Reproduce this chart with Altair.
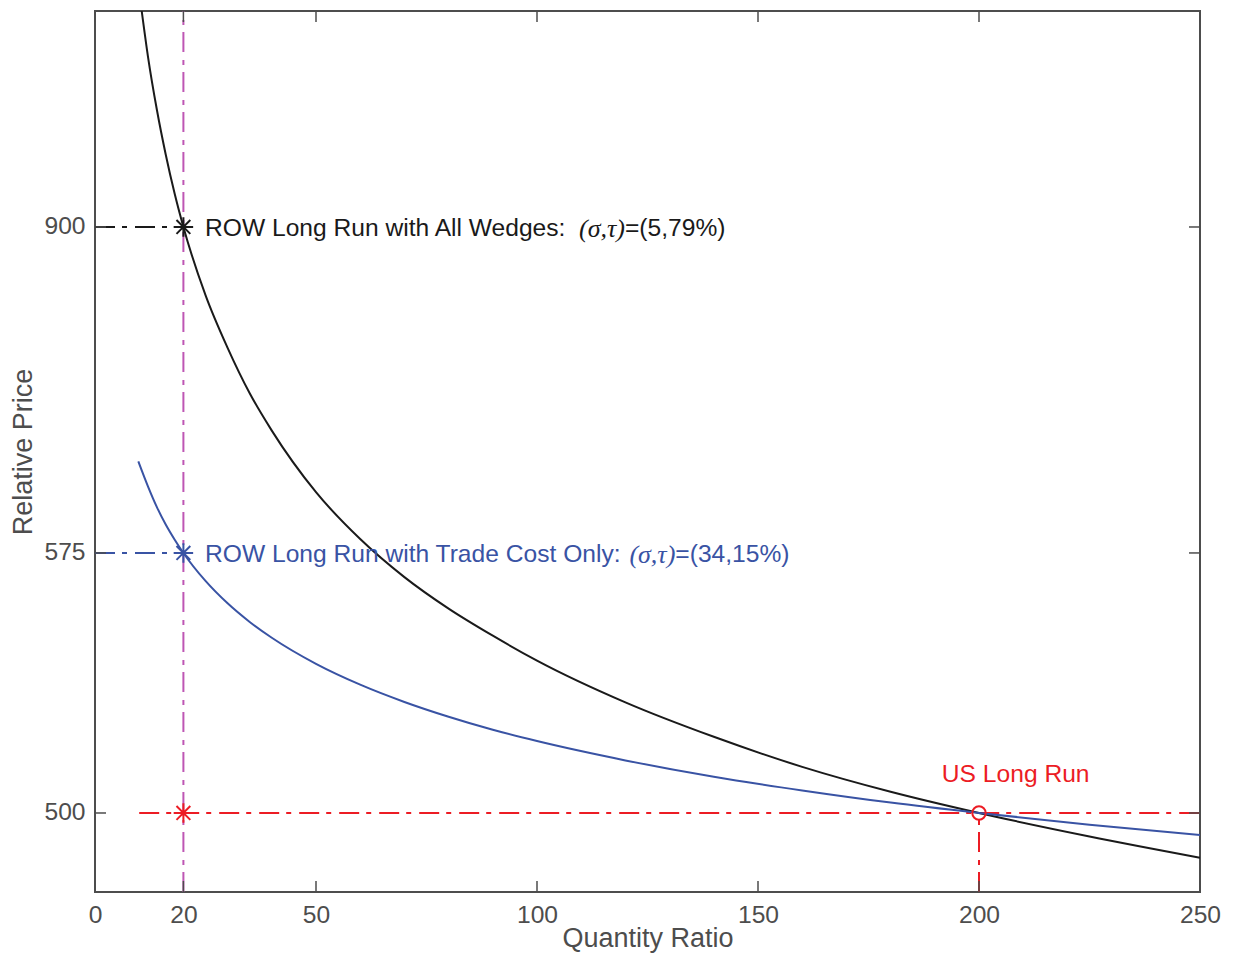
import altair as alt
import pandas as pd

# ---- values ----
# y is measured on the figure's (non-uniform) price axis; tick labels below
black_q = [10.5, 12, 14, 16, 18, 20, 25, 30, 35, 40, 50, 60, 70, 80, 90, 100, 120, 140, 160, 180, 200, 225, 250]
black_p = [1049, 1016, 980, 949.5, 923, 900, 853.5, 817.5, 786.5, 761, 719, 687, 661, 639.5, 621, 604,
           575.5, 552, 531.5, 514.5, 500, 484, 469.5]
blue_q = [9.8, 12, 14, 16, 18, 20, 25, 30, 35, 40, 50, 60, 70, 80, 90, 100, 120, 140, 160, 180, 200, 225, 250]
blue_p = [740, 722.8, 708.8, 696.9, 686.7, 677.5, 658.4, 643.1, 630.4, 619.6, 601.8, 587.6, 575.8, 565.7,
          556.8, 549.1, 535.9, 524.7, 515.4, 507.1, 500, 492, 484.9]

x_ticks = [0, 20, 50, 100, 150, 200, 250]
y_tick_pos = [500, 677.5, 900]
y_tick_labels = ["500", "575", "900"]
y_domain = [446.07, 1047.43]
x_domain = [0, 250]

BLACK = "#1a1a1a"
BLUE = "#3953a4"
RED = "#ec1c24"
MAGENTA = "#be56b4"
AXIS = "#4d4d4d"
SANS = "Liberation Sans"
SERIF = "Liberation Serif"

W, H = 1105, 881

curves = pd.concat([
    pd.DataFrame({"q": black_q, "p": black_p, "c": BLACK, "s": "all"}),
    pd.DataFrame({"q": blue_q, "p": blue_p, "c": BLUE, "s": "trade"}),
])

ref = pd.DataFrame({
    "x":  [20, 0, 0, 10, 200],
    "x2": [20, 20, 20, 250, 200],
    "y":  [y_domain[0], 900, 677.5, 500, y_domain[0]],
    "y2": [y_domain[1], 900, 677.5, 500, 500],
    "c":  [MAGENTA, BLACK, BLUE, RED, RED],
})

stars = pd.DataFrame({"q": [20, 20, 20], "p": [900, 677.5, 500], "c": [BLACK, BLUE, RED]})
circ = pd.DataFrame({"q": [200], "p": [500]})

texts = pd.DataFrame({
    "q": [24.89, 119.9, 119.9, 24.89, 131.3, 131.3, 208.3],
    "p": [900, 900, 900, 677.5, 677.5, 677.5, 527.3],
    "t": ["ROW Long Run with All Wedges:", "(σ,τ)", "=(5,79%)",
          "ROW Long Run with Trade Cost Only:", "(σ,τ)", "=(34,15%)", "US Long Run"],
    "c": [BLACK, BLACK, BLACK, BLUE, BLUE, BLUE, RED],
    "f": [SANS, SERIF, SANS, SANS, SERIF, SANS, SANS],
    "st": ["normal", "italic", "normal", "normal", "italic", "normal", "normal"],
    "a": ["left", "right", "left", "left", "right", "left", "center"],
    "fs": [24.6, 26, 24.6, 24.6, 26, 24.6, 24.6],
})

xs = alt.Scale(domain=x_domain, nice=False, zero=False)
ys = alt.Scale(domain=y_domain, nice=False, zero=False)

label_expr = " : ".join(
    [f"datum.value == {v} ? '{l}'" for v, l in zip(y_tick_pos, y_tick_labels)]
) + " : ''"

x_axis = alt.Axis(values=x_ticks, title="Quantity Ratio", labelFontSize=24.6, labelFont=SANS,
                  labelColor=AXIS, domain=False, ticks=False, tickSize=0, labelPadding=11,
                  labelFlush=False, labelOverlap=False, grid=False,
                  titleFont=SANS, titleFontSize=27, titleFontWeight="normal", titleColor=AXIS,
                  titleX=552.5, titleY=54, titleBaseline="alphabetic")
y_axis = alt.Axis(values=y_tick_pos, labelExpr=label_expr, title="Relative Price",
                  labelFontSize=24.6, labelFont=SANS, labelColor=AXIS, domain=False, ticks=False,
                  tickSize=0, labelPadding=10, labelFlush=False, labelOverlap=False, grid=False,
                  titleFont=SANS, titleFontSize=27, titleFontWeight="normal", titleColor=AXIS,
                  titleX=-64, titleY=440.5, titleBaseline="alphabetic", titleAngle=270)

base_axes = alt.Chart(pd.DataFrame({"q": [0], "p": [500]})).mark_point(opacity=0).encode(
    x=alt.X("q:Q", scale=xs, axis=x_axis),
    y=alt.Y("p:Q", scale=ys, axis=y_axis),
)

dashdot = [20, 7, 5, 8]
ref_layer = alt.Chart(ref).mark_rule(strokeWidth=2, strokeDash=dashdot).encode(
    x=alt.X("x:Q", scale=xs), x2="x2:Q",
    y=alt.Y("y:Q", scale=ys), y2="y2:Q",
    color=alt.Color("c:N", scale=None),
)

curve_layer = alt.Chart(curves).mark_line(strokeWidth=2, interpolate="monotone", clip=True).encode(
    x=alt.X("q:Q", scale=xs),
    y=alt.Y("p:Q", scale=ys),
    color=alt.Color("c:N", scale=None),
    detail="s:N",
)

star_path = "M-1,0L1,0M0,-1L0,1M-0.71,-0.71L0.71,0.71M-0.71,0.71L0.71,-0.71"
star_layer = alt.Chart(stars).mark_point(shape=star_path, filled=False, strokeWidth=2,
                                         size=380, opacity=1).encode(
    x=alt.X("q:Q", scale=xs), y=alt.Y("p:Q", scale=ys),
    stroke=alt.Stroke("c:N", scale=None),
)

circ_layer = alt.Chart(circ).mark_point(shape="circle", filled=False, strokeWidth=2,
                                        size=180, color=RED, opacity=1).encode(
    x=alt.X("q:Q", scale=xs), y=alt.Y("p:Q", scale=ys),
)

text_layers = []
for _, r in texts.iterrows():
    text_layers.append(
        alt.Chart(pd.DataFrame([r])).mark_text(
            font=r["f"], fontStyle=r["st"], fontSize=float(r["fs"]), align=r["a"],
            baseline="middle", dy=2, color=r["c"],
        ).encode(x=alt.X("q:Q", scale=xs), y=alt.Y("p:Q", scale=ys), text="t:N")
    )

# inward ticks on all four sides
xt = pd.DataFrame({"q": x_ticks})
yt = pd.DataFrame({"p": y_tick_pos})
tick_style = dict(color=AXIS, strokeWidth=1.5)
tick_layers = [
    alt.Chart(xt).mark_rule(**tick_style).encode(x=alt.X("q:Q", scale=xs), y=alt.value(H), y2=alt.value(H - 11)),
    alt.Chart(xt).mark_rule(**tick_style).encode(x=alt.X("q:Q", scale=xs), y=alt.value(0), y2=alt.value(11)),
    alt.Chart(yt).mark_rule(**tick_style).encode(y=alt.Y("p:Q", scale=ys), x=alt.value(0), x2=alt.value(11)),
    alt.Chart(yt).mark_rule(**tick_style).encode(y=alt.Y("p:Q", scale=ys), x=alt.value(W), x2=alt.value(W - 11)),
]

chart = alt.layer(
    base_axes, ref_layer, curve_layer, *tick_layers, star_layer, circ_layer, *text_layers
).properties(
    width=W, height=H,
    autosize=alt.AutoSizeParams(type="none"),
    padding={"left": 87, "top": 3, "right": 26, "bottom": 61},
).configure(
    background="white"
).configure_view(
    stroke=AXIS, strokeWidth=2
)

chart.save("out.html", embed_options={"renderer": "svg", "actions": False})
